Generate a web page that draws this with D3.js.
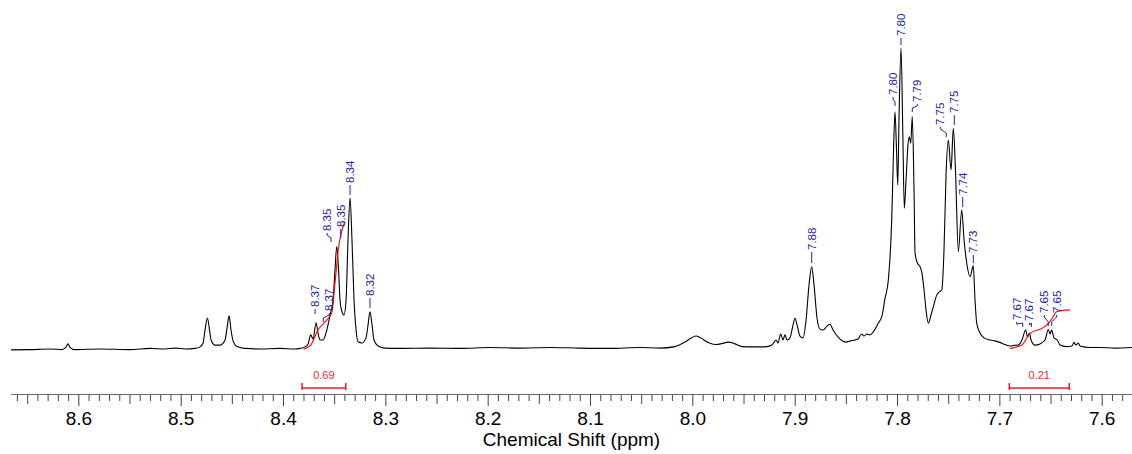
<!DOCTYPE html>
<html>
<head>
<meta charset="utf-8">
<script src="https://cdn.jsdelivr.net/npm/d3@7"></script>
<style>
  body { margin: 0; background: #fff; }
  svg { display: block; font-family: "Liberation Sans", Arial, sans-serif; }
</style>
</head>
<body>
<div id="chart"></div>
<script>
// Spectrum trace: chemical shift (ppm) and intensity (% of the tallest peak)
var shift = [
  8.6658, 8.6472, 8.6276, 8.6159, 8.6120, 8.6101, 8.6081, 8.6042, 8.5788, 8.5495,
  8.5299, 8.5153, 8.5055, 8.4957, 8.4860, 8.4811, 8.4781, 8.4762, 8.4739, 8.4718,
  8.4703, 8.4664, 8.4615, 8.4566, 8.4547, 8.4527, 8.4508, 8.4488, 8.4449, 8.4371,
  8.4224, 8.4029, 8.3882, 8.3834, 8.3785, 8.3755, 8.3729, 8.3707, 8.3677, 8.3658,
  8.3638, 8.3609, 8.3580, 8.3540, 8.3511, 8.3492, 8.3475, 8.3457, 8.3443, 8.3423,
  8.3404, 8.3384, 8.3365, 8.3345, 8.3326, 8.3306, 8.3286, 8.3267, 8.3228, 8.3189,
  8.3169, 8.3150, 8.3130, 8.3111, 8.3071, 8.3003, 8.2856, 8.2563, 8.2270, 8.1977,
  8.1684, 8.1391, 8.1098, 8.0804, 8.0511, 8.0316, 8.0169, 8.0072, 8.0003, 7.9964,
  7.9925, 7.9847, 7.9778, 7.9710, 7.9651, 7.9583, 7.9515, 7.9388, 7.9290, 7.9222,
  7.9182, 7.9163, 7.9137, 7.9114, 7.9095, 7.9075, 7.9046, 7.9016, 7.8997, 7.8977,
  7.8948, 7.8919, 7.8889, 7.8860, 7.8834, 7.8811, 7.8782, 7.8753, 7.8723, 7.8684,
  7.8655, 7.8625, 7.8577, 7.8508, 7.8440, 7.8381, 7.8345, 7.8323, 7.8296, 7.8264,
  7.8225, 7.8183, 7.8147, 7.8117, 7.8085, 7.8052, 7.8034, 7.8020, 7.8005, 7.7993,
  7.7981, 7.7961, 7.7944, 7.7929, 7.7912, 7.7893, 7.7880, 7.7866, 7.7851, 7.7834,
  7.7824, 7.7805, 7.7775, 7.7759, 7.7736, 7.7717, 7.7694, 7.7668, 7.7645, 7.7612,
  7.7590, 7.7563, 7.7541, 7.7521, 7.7499, 7.7472, 7.7450, 7.7429, 7.7401, 7.7368,
  7.7345, 7.7316, 7.7287, 7.7255, 7.7238, 7.7221, 7.7189, 7.7150, 7.7091, 7.7043,
  7.6994, 7.6945, 7.6896, 7.6857, 7.6818, 7.6779, 7.6743, 7.6725, 7.6707, 7.6691,
  7.6652, 7.6603, 7.6554, 7.6522, 7.6505, 7.6489, 7.6466, 7.6434, 7.6407, 7.6349,
  7.6290, 7.6271, 7.6251, 7.6229, 7.6212, 7.6114, 7.6017, 7.5870, 7.5704
];
var intensity = [
  -0.3, -0.2, 0.0, -0.2, 0.7, 1.7, 0.5, -0.2, 0.0, -0.2,
  0.2, 0.0, 0.3, 0.0, 0.2, 0.7, 2.0, 6.3, 10.3, 6.3,
  3.0, 1.3, 1.3, 3.0, 7.0, 11.0, 6.3, 2.7, 0.8, 0.2,
  0.0, 0.2, 0.0, 0.2, 0.7, 1.7, 4.7, 3.3, 8.7, 5.3,
  3.0, 3.0, 5.3, 11.3, 16.3, 26.2, 34.0, 26.2, 16.3, 12.3,
  11.3, 16.3, 36.2, 50.2, 36.2, 16.3, 6.3, 2.4, 2.0, 3.7,
  8.0, 12.4, 8.0, 3.0, 1.0, 0.3, 0.2, 0.3, 0.2, 0.5,
  0.3, 0.5, 0.3, 0.2, 0.5, 0.3, 0.8, 2.3, 3.8, 4.3,
  3.8, 2.2, 1.5, 1.8, 2.3, 1.7, 0.8, 0.7, 0.7, 1.3,
  3.0, 2.0, 5.0, 3.0, 4.7, 3.0, 3.7, 8.0, 10.2, 8.0,
  4.3, 3.7, 9.6, 21.3, 27.3, 21.3, 10.3, 6.6, 6.3, 7.6,
  8.2, 6.3, 4.0, 2.3, 2.8, 3.3, 5.0, 4.3, 5.0, 4.7,
  6.0, 8.6, 11.0, 16.9, 22.9, 42.9, 66.1, 78.8, 66.1, 54.5,
  76.1, 100.0, 72.8, 46.8, 56.1, 67.8, 70.5, 68.4, 77.2, 52.8,
  31.9, 28.9, 27.3, 25.7, 19.6, 13.0, 8.6, 11.3, 14.1, 17.9,
  18.9, 19.6, 32.9, 57.8, 69.4, 59.5, 73.3, 59.5, 32.3, 46.2,
  36.2, 27.9, 24.0, 27.6, 16.3, 8.5, 5.3, 3.7, 3.0, 2.7,
  2.2, 1.5, 1.0, 1.2, 1.3, 3.0, 6.3, 4.0, 5.3, 3.0,
  1.3, 1.7, 3.0, 6.5, 5.0, 6.3, 3.7, 3.0, 1.3, 0.8,
  1.0, 2.2, 1.3, 2.0, 1.0, 0.5, 0.5, 0.3, 0.5
];

// Peak picking labels
var peakText = ["8.37", "8.37", "8.35", "8.35", "8.34", "8.32", "7.88", "7.80", "7.80",
                "7.79", "7.75", "7.75", "7.74", "7.73", "7.67", "7.67", "7.65", "7.65"];
var peakShift = [8.3677, 8.3655, 8.3540, 8.3475, 8.3345, 8.3150, 7.8834, 7.8020, 7.7961,
                 7.7851, 7.7499, 7.7450, 7.7368, 7.7255, 7.6743, 7.6707, 7.6522, 7.6489];

// Integral curves (ppm, running integral drawn on the intensity scale)
var integ1Shift = [8.3801, 8.3730, 8.3658, 8.3573, 8.3524, 8.3492, 8.3460, 8.3411, 8.3394];
var integ1Value = [-0.1, 1.3, 6.3, 9.6, 12.0, 21.9, 32.9, 40.9, 42.3];
var integ2Shift = [7.6896, 7.6781, 7.6701, 7.6571, 7.6505, 7.6440, 7.6388, 7.6310];
var integ2Value = [0.2, 1.3, 5.2, 7.1, 9.1, 12.4, 12.8, 13.0];

// Integral ranges and their values
var integFrom = [8.3814, 7.6903];
var integTo = [8.3387, 7.6317];
var integText = ["0.69", "0.21"];

// label layout: text offset from the peak (px), text bottom (px), leader end offset and y
var labelLayout = [
  [-1, 307, -1, 314], [11, 311, 5, 322], [-3, 231, 1, 242], [4, 227, 4, 238],
  [0, 183, 0, 195], [0, 296, 0, 308], [0, 250, 0, 263], [-2, 95, 0, 106],
  [0, 36, 0, 45], [5, 102, 0, 112], [-8, 125, -2, 137], [1, 113, 1, 125],
  [1, 195, 1, 207], [0, 253, 0, 263], [-9, 320, -3, 327], [0, 321, 2, 327],
  [-4, 313, 0, 326], [5, 313, 0, 326]
];

var width = 1132, height = 454;

var svg = d3.select("#chart").append("svg")
    .attr("width", width)
    .attr("height", height);

svg.append("rect").attr("width", width).attr("height", height).attr("fill", "#fff");

var x = d3.scaleLinear().domain([8.6658, 7.5704]).range([11, 1132]);
var y = d3.scaleLinear().domain([0, 100]).range([349, 48]);

var spec = shift.map(function(s, i) { return [s, intensity[i]]; });

var line = d3.line()
    .x(function(d) { return x(d[0]); })
    .y(function(d) { return y(d[1]); })
    .curve(d3.curveMonotoneX);

svg.append("path")
    .datum(spec)
    .attr("fill", "none")
    .attr("stroke", "#000")
    .attr("stroke-width", 1.1)
    .attr("d", line);

// integral curves
[[integ1Shift, integ1Value], [integ2Shift, integ2Value]].forEach(function(c) {
  svg.append("path")
      .datum(c[0].map(function(s, i) { return [s, c[1][i]]; }))
      .attr("fill", "none")
      .attr("stroke", "#ff0000")
      .attr("stroke-width", 1.1)
      .attr("d", line);
});

// integral bars under the spectrum
integFrom.forEach(function(f, i) {
  var g = svg.append("g").attr("stroke", "#ee1c1c").attr("stroke-width", 1.5);
  var x1 = x(f), x2 = x(integTo[i]);
  g.append("line").attr("x1", x1).attr("x2", x2).attr("y1", 388).attr("y2", 388);
  g.append("line").attr("x1", x1).attr("x2", x1).attr("y1", 383).attr("y2", 390);
  g.append("line").attr("x1", x2).attr("x2", x2).attr("y1", 383).attr("y2", 390);
  svg.append("text")
      .attr("x", (x1 + x2) / 2)
      .attr("y", 379)
      .attr("text-anchor", "middle")
      .style("font-size", "11px")
      .style("fill", "#ee2a2a")
      .text(integText[i]);
});

// peak labels
var labelColor = "#23239a";
peakText.forEach(function(t, i) {
  var lay = labelLayout[i];
  var px = x(peakShift[i]);
  var lx = px + lay[0], by = lay[1], ex = px + lay[2], ey = lay[3];
  var pts;
  if (Math.abs(lx - ex) < 0.5) {
    pts = [[lx, by + 2], [lx, ey]];
  } else {
    pts = [[lx, by + 2], [lx, by + 4], [ex, ey - 4], [ex, ey]];
  }
  svg.append("path")
      .attr("d", d3.line()(pts))
      .attr("fill", "none")
      .attr("stroke", labelColor)
      .attr("stroke-width", 1);
  svg.append("text")
      .attr("transform", "translate(" + lx + "," + by + ") rotate(-90)")
      .attr("dy", "0.35em")
      .attr("text-anchor", "start")
      .style("font-size", "11.5px")
      .style("fill", labelColor)
      .text(t);
});

// axis: minor (0.01), medium (0.05) and major (0.1) ticks
var all = d3.range(758, 867);
var minorVals = all.filter(function(v) { return v % 5 !== 0; }).map(function(v) { return v / 100; });
var midVals = all.filter(function(v) { return v % 5 === 0 && v % 10 !== 0; }).map(function(v) { return v / 100; });
var majorVals = all.filter(function(v) { return v % 10 === 0; }).map(function(v) { return v / 100; });

var axisY = 394;
function addAxis(vals, size, labels) {
  var ax = d3.axisBottom(x).tickValues(vals).tickSize(size).tickSizeOuter(0).tickPadding(6)
      .tickFormat(labels ? d3.format(".1f") : "");
  var g = svg.append("g")
      .attr("transform", "translate(0," + axisY + ")")
      .call(ax);
  g.selectAll("line").attr("stroke", "#444");
  g.select(".domain").attr("stroke", "#666").attr("stroke-width", 1.2);
  g.selectAll("text").style("font-size", "19px").style("fill", "#000")
      .style("font-family", "'Liberation Sans', Arial, sans-serif");
  return g;
}
addAxis(minorVals, 7, false);
addAxis(midVals, 10, false);
addAxis(majorVals, 12, true);

svg.append("text")
    .attr("x", (11 + 1132) / 2)
    .attr("y", 446)
    .attr("text-anchor", "middle")
    .style("font-size", "19px")
    .style("fill", "#000")
    .text("Chemical Shift (ppm)");
</script>
</body>
</html>
